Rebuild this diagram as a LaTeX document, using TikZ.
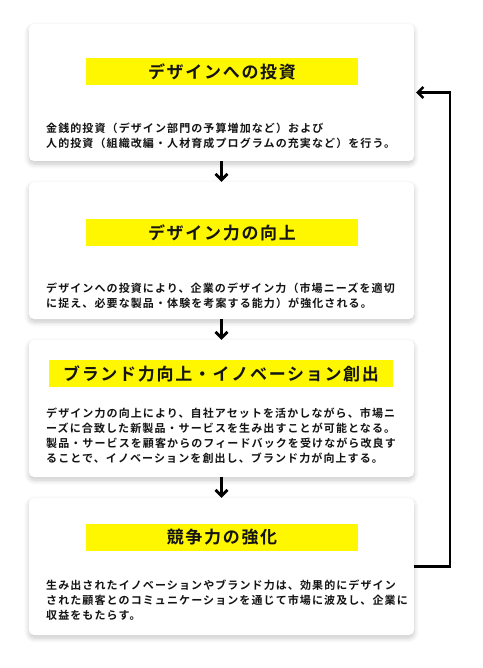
\documentclass[tikz,border=0pt]{standalone}
\usepackage{fontspec}
\usepackage{tikz}
\usetikzlibrary{arrows.meta}
\usetikzlibrary{shadows.blur}
\newfontfamily\jptitle{Noto Sans CJK JP Bold}[LetterSpace=10]
\newfontfamily\jpbody{Noto Sans CJK JP Bold}[LetterSpace=10]
\definecolor{tagyellow}{HTML}{FFF700}
\definecolor{ink}{HTML}{141414}
\pgfdeclarelayer{edgelayer}
\pgfdeclarelayer{nodelayer}
\pgfsetlayers{nodelayer,edgelayer,main}
\tikzstyle{none}=[inner sep=0pt]
\tikzstyle{card}=[rectangle,rounded corners=5pt,fill=white,minimum width=385pt,minimum height=137pt,inner sep=0pt,blur shadow={shadow xshift=0pt,shadow yshift=-3pt,shadow blur radius=5pt,shadow blur steps=8,shadow opacity=22}]
\tikzstyle{tag}=[rectangle,fill=tagyellow,minimum width=272pt,minimum height=27pt,inner xsep=14pt,inner ysep=0pt,text=ink,font=\jptitle\fontsize{17}{20}\selectfont]
\tikzstyle{body}=[inner sep=0pt,align=left,anchor=west,text=ink,font=\jpbody\fontsize{11}{15}\selectfont]
\tikzstyle{flow}=[-{Straight Barb[length=6pt,width=12pt]},draw=black,line width=2.8pt]
\tikzstyle{back}=[-{Straight Barb[length=5.5pt,width=11pt]},draw=black,line width=2.4pt]

\begin{document}
\begin{tikzpicture}[x=1pt,y=-1pt]
	\useasboundingbox (0,0) rectangle (482,668);
	\begin{pgfonlayer}{nodelayer}
		\node [style=card] (0) at (221.5, 92.5) {};
		\node [style=card] (1) at (221.5, 250.5) {};
		\node [style=card] (2) at (221.5, 408.5) {};
		\node [style=card] (3) at (221.5, 566.5) {};
		\node [style=tag] (4) at (222, 72) {デザインへの投資};
		\node [style=tag] (5) at (222, 232.5) {デザイン力の向上};
		\node [style=tag] (6) at (221, 373.5) {ブランド力向上・イノベーション創出};
		\node [style=tag] (7) at (222, 537.5) {競争力の強化};
		\node [style=body] (8) at (46, 135.5) {金銭的投資（デザイン部門の予算増加など）および\\人的投資（組織改編・人材育成プログラムの充実など）を行う。};
		\node [style=body] (9) at (46, 295.5) {デザインへの投資により、企業のデザイン力（市場ニーズを適切\\に捉え、必要な製品・体験を考案する能力）が強化される。};
		\node [style=body] (10) at (46, 436) {デザイン力の向上により、自社アセットを活かしながら、市場ニ\\ーズに合致した新製品・サービスを生み出すことが可能となる。\\製品・サービスを顧客からのフィードバックを受けながら改良す\\ることで、イノベーションを創出し、ブランド力が向上する。};
		\node [style=body] (11) at (46, 600.5) {生み出されたイノベーションやブランド力は、効果的にデザイン\\された顧客とのコミュニケーションを通じて市場に波及し、企業に\\収益をもたらす。};
		\coordinate (12) at (450, 566.5);
	\end{pgfonlayer}
	\begin{pgfonlayer}{edgelayer}
		\draw [style=flow] (0) to (1);
		\draw [style=flow] (1) to (2);
		\draw [style=flow] (2) to (3);
		\draw [style=back] (3.east) -- (12) |- ([xshift=2pt]0.east);
	\end{pgfonlayer}
\end{tikzpicture}
\end{document}
